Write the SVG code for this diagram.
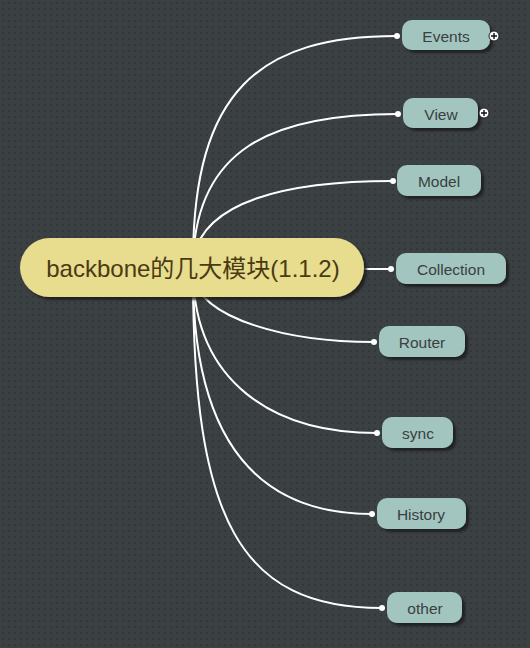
<svg xmlns="http://www.w3.org/2000/svg" width="530" height="648" viewBox="0 0 530 648">
<defs>
<pattern id="dots" width="6" height="6" patternUnits="userSpaceOnUse">
<rect width="6" height="6" fill="#3b4043"/>
<rect x="2" y="2" width="2" height="2" fill="#33373a"/>
</pattern>
<filter id="sh" x="-20%" y="-20%" width="150%" height="160%">
<feDropShadow dx="3" dy="3" stdDeviation="1.2" flood-color="#15181a" flood-opacity="0.8"/>
</filter>
</defs>
<style>
.node rect{fill:#a2c5bf;filter:url(#sh)}
.node text{font-family:"Liberation Sans",Arial,sans-serif;font-size:15.5px;fill:#3a3f3f;text-anchor:middle;dominant-baseline:central}
.conn path{fill:none;stroke:#ffffff;stroke-width:2}
.conn circle{fill:#ffffff}
.plus circle{fill:#ffffff;stroke:#222;stroke-width:1}
.plus path{stroke:#111;stroke-width:1.4}
</style>
<rect width="530" height="648" fill="url(#dots)"/>
<g class="conn">
<path d="M193,262 C193,90 260,36 397,36"/>
<path d="M193,262 C196,150 270,114 398,114"/>
<path d="M193,262 C200,200 290,181 393,181"/>
<path d="M364,269 L391,269"/>
<path d="M193,275 C200,320 290,342 374,342"/>
<path d="M193,275 C196,380 270,433 377,433"/>
<path d="M193,275 C193,430 250,514 372,514"/>
<path d="M193,275 C193,520 240,608 382,608"/>
<circle cx="397" cy="36" r="3"/>
<circle cx="398" cy="114" r="3"/>
<circle cx="393" cy="181" r="3"/>
<circle cx="391" cy="269" r="3"/>
<circle cx="374" cy="342" r="3"/>
<circle cx="377" cy="433" r="3"/>
<circle cx="372" cy="514" r="3"/>
<circle cx="382" cy="608" r="3"/>
</g>
<g id="root">
<rect x="20" y="238" width="344" height="59" rx="29.5" fill="#e8dc8f" filter="url(#sh)"/>
<text x="193" y="268" font-family="'Liberation Sans','Noto Sans CJK SC',sans-serif" font-size="24" fill="#4a3a12" text-anchor="middle" dominant-baseline="central">backbone的几大模块(1.1.2)</text>
</g>
<g id="events" class="node">
<rect x="402" y="20" width="88" height="30" rx="10"/>
<text x="446" y="36">Events</text>
</g>
<g class="plus">
<circle cx="494" cy="36" r="5"/>
<path d="M491,36 H497 M494,33 V39"/>
</g>
<g id="view" class="node">
<rect x="403" y="98" width="75" height="30" rx="10"/>
<text x="441" y="114">View</text>
</g>
<g class="plus">
<circle cx="484" cy="113" r="5"/>
<path d="M481,113 H487 M484,110 V116"/>
</g>
<g id="model" class="node">
<rect x="397" y="165" width="84" height="31" rx="10"/>
<text x="439" y="181">Model</text>
</g>
<g id="collection" class="node">
<rect x="396" y="253" width="110" height="31" rx="10"/>
<text x="451" y="269">Collection</text>
</g>
<g id="router" class="node">
<rect x="379" y="326" width="86" height="31" rx="10"/>
<text x="422" y="342">Router</text>
</g>
<g id="sync" class="node">
<rect x="382" y="417" width="71" height="31" rx="10"/>
<text x="418" y="433">sync</text>
</g>
<g id="history" class="node">
<rect x="377" y="498" width="89" height="31" rx="10"/>
<text x="421" y="514">History</text>
</g>
<g id="other" class="node">
<rect x="387" y="592" width="75" height="31" rx="10"/>
<text x="425" y="608">other</text>
</g>
</svg>
